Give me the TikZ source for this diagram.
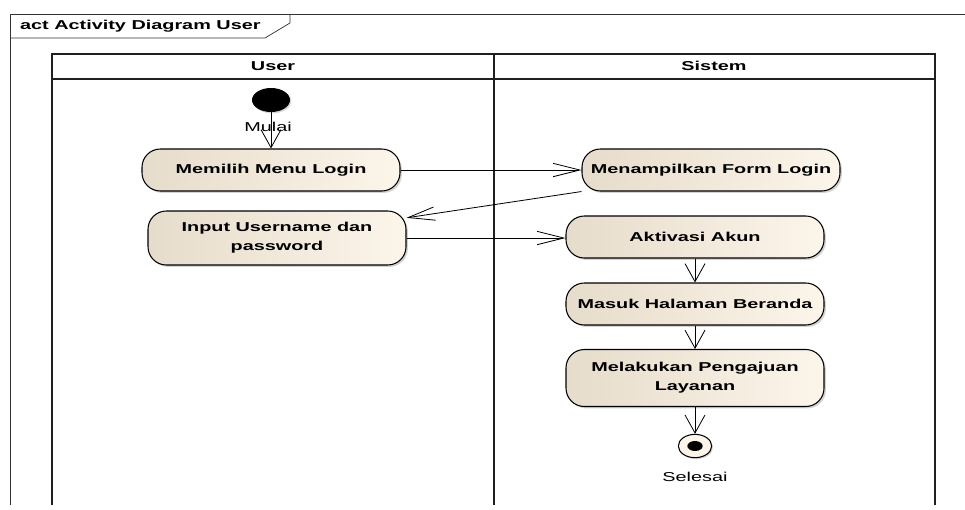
\documentclass[tikz,border=0pt]{standalone}
\usepackage{fontspec}
\setmainfont{Liberation Sans}[FakeStretch=1.54]
\usepackage{tikz}
\usetikzlibrary{arrows.meta,shapes.geometric,shadows}
\definecolor{actleft}{HTML}{E6DCCB}
\definecolor{actright}{HTML}{FCF5EA}
\definecolor{lanegray}{HTML}{202020}

\begin{document}
\begin{tikzpicture}[x=0.3mm, y=-0.3mm,
  act/.style={draw=black, line width=0.9pt, left color=actleft, right color=actright, rounded corners=5.5mm, minimum width=77.4mm, minimum height=12.6mm, align=center, font=\fontsize{11}{16}\selectfont\bfseries, inner sep=2pt, drop shadow={shadow xshift=1.6pt, shadow yshift=-1.6pt, fill=black!35}},
  hdr/.style={font=\fontsize{11}{13}\selectfont\bfseries},
  lbl/.style={font=\fontsize{11}{13}\selectfont, inner sep=1pt},
  lane/.style={lanegray, line width=1.2pt},
  harr/.style={-{Straight Barb[length=8mm, width=4mm]}, line width=0.7pt},
  varr/.style={-{Straight Barb[length=5.4mm, width=6mm]}, line width=0.7pt},
]
\useasboundingbox (0,0) rectangle (965,509);

% ── Frame ──
\draw[line width=0.6pt, black!80] (10,505) -- (10,14) -- (965,14);
\draw[line width=0.6pt, black!80] (10,38) -- (265,38) -- (290,23) -- (290,14);
\node[hdr, anchor=west] (title) at (16,26) {act Activity Diagram User};

% ── Swimlanes ──
\draw[lane] (52,505) -- (52,54) -- (935,54) -- (935,505);
\draw[lane] (52,79) -- (935,79);
\draw[lane] (494,54) -- (494,505);
\node[hdr] (user) at (273,66) {User};
\node[hdr] (sistem) at (714,66) {Sistem};

% ── User lane ──
\node[ellipse, fill=black, minimum width=11.4mm, minimum height=7.2mm, inner sep=0pt, drop shadow={shadow xshift=1.2pt, shadow yshift=-1.2pt, fill=black!30}] (start) at (271,100) {};
\node[lbl] (mulai) at (268,127) {Mulai};

\node[act] (pilih) at (271,170) {Memilih Menu Login};
\node[act, minimum height=16.2mm] (input) at (277,238) {Input Username dan\\password};

% ── Sistem lane ──
\node[act] (tampil) at (711,170) {Menampilkan Form Login};
\node[act] (aktivasi) at (695,237) {Aktivasi Akun};
\node[act] (beranda) at (695,304) {Masuk Halaman Beranda};
\node[act, minimum height=17.1mm] (ajuan) at (695,378) {Melakukan Pengajuan\\Layanan};

\node[ellipse, draw=black, line width=0.9pt, fill=actright, minimum width=10mm, minimum height=7mm, inner sep=0pt, drop shadow={shadow xshift=1.2pt, shadow yshift=-1.2pt, fill=black!30}] (stop) at (695,446) {};
\fill (stop.center) ellipse (2.3mm and 1.5mm);
\node[lbl] (selesai) at (695,477) {Selesai};

% ── Flows ──
\draw[varr] (start) -- (pilih);
\draw[harr] (pilih) -- (tampil);
\draw[harr] (tampil.south west) -- ([yshift=-2.2mm]input.north east);
\draw[harr] (input.east) -- (aktivasi.west |- input.east);
\draw[varr] (aktivasi) -- (beranda);
\draw[varr] (beranda) -- (ajuan);
\draw[varr] (ajuan) -- (stop);

\end{tikzpicture}
\end{document}
